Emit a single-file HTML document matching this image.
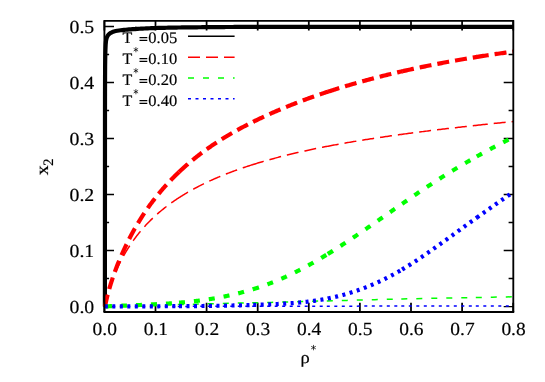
<!DOCTYPE html>
<html><head><meta charset="utf-8"><title>x2 vs rho*</title>
<style>
html,body{margin:0;padding:0;background:#fff;}
body{width:545px;height:382px;overflow:hidden;}
svg{display:block;will-change:transform;}
text{font-family:"Liberation Serif",serif;text-rendering:geometricPrecision;fill:#000;stroke:#000;stroke-width:0.18px;}
</style></head><body>
<svg width="545" height="382" viewBox="0 0 545 382">
<rect width="545" height="382" fill="#fff"/>
<path d="M104.40,311.85 V302.65 M104.40,20.85 V30.45 M155.50,311.85 V302.65 M155.50,20.85 V30.45 M206.60,311.85 V302.65 M206.60,20.85 V30.45 M257.70,311.85 V302.65 M257.70,20.85 V30.45 M308.80,311.85 V302.65 M308.80,20.85 V30.45 M359.90,311.85 V302.65 M359.90,20.85 V30.45 M411.00,311.85 V302.65 M411.00,20.85 V30.45 M462.10,311.85 V302.65 M462.10,20.85 V30.45 M513.20,311.85 V302.65 M513.20,20.85 V30.45" stroke="#000" stroke-width="1.75" fill="none"/>
<path d="M104.4,306.60 H114.00 M513.3,306.60 H503.70 M104.4,278.59 H109.10 M513.3,278.59 H508.60 M104.4,250.58 H114.00 M513.3,250.58 H503.70 M104.4,222.57 H109.10 M513.3,222.57 H508.60 M104.4,194.56 H114.00 M513.3,194.56 H503.70 M104.4,166.55 H109.10 M513.3,166.55 H508.60 M104.4,138.54 H114.00 M513.3,138.54 H503.70 M104.4,110.53 H109.10 M513.3,110.53 H508.60 M104.4,82.52 H114.00 M513.3,82.52 H503.70 M104.4,54.51 H109.10 M513.3,54.51 H508.60 M104.4,26.50 H114.00 M513.3,26.50 H503.70" stroke="#000" stroke-width="1.45" fill="none"/>
<text x="122.5" y="42.55" font-size="15.95" textLength="9.8" lengthAdjust="spacingAndGlyphs">T</text><path d="M135.9,26.55 V30.95 M134.00,27.65 L137.80,29.85 M134.00,29.85 L137.80,27.65" stroke="#000" stroke-width="0.7" stroke-linecap="round" fill="none"/><path d="M139.5,37.65 H147.3 M139.5,40.35 H147.3" stroke="#000" stroke-width="1.25" fill="none"/><text x="148.3" y="42.55" font-size="15.95" textLength="28.9" lengthAdjust="spacingAndGlyphs">0.05</text>
<text x="122.5" y="63.5" font-size="15.95" textLength="9.8" lengthAdjust="spacingAndGlyphs">T</text><path d="M135.9,47.50 V51.90 M134.00,48.60 L137.80,50.80 M134.00,50.80 L137.80,48.60" stroke="#000" stroke-width="0.7" stroke-linecap="round" fill="none"/><path d="M139.5,58.60 H147.3 M139.5,61.30 H147.3" stroke="#000" stroke-width="1.25" fill="none"/><text x="148.3" y="63.5" font-size="15.95" textLength="28.9" lengthAdjust="spacingAndGlyphs">0.10</text>
<text x="122.5" y="84.5" font-size="15.95" textLength="9.8" lengthAdjust="spacingAndGlyphs">T</text><path d="M135.9,68.50 V72.90 M134.00,69.60 L137.80,71.80 M134.00,71.80 L137.80,69.60" stroke="#000" stroke-width="0.7" stroke-linecap="round" fill="none"/><path d="M139.5,79.60 H147.3 M139.5,82.30 H147.3" stroke="#000" stroke-width="1.25" fill="none"/><text x="148.3" y="84.5" font-size="15.95" textLength="28.9" lengthAdjust="spacingAndGlyphs">0.20</text>
<text x="122.5" y="105.5" font-size="15.95" textLength="9.8" lengthAdjust="spacingAndGlyphs">T</text><path d="M135.9,89.50 V93.90 M134.00,90.60 L137.80,92.80 M134.00,92.80 L137.80,90.60" stroke="#000" stroke-width="0.7" stroke-linecap="round" fill="none"/><path d="M139.5,100.60 H147.3 M139.5,103.30 H147.3" stroke="#000" stroke-width="1.25" fill="none"/><text x="148.3" y="105.5" font-size="15.95" textLength="28.9" lengthAdjust="spacingAndGlyphs">0.40</text>
<clipPath id="c"><rect x="102" y="20" width="412.1" height="292.6"/></clipPath>
<g clip-path="url(#c)">
<g stroke="#000" stroke-width="4.2" fill="none" stroke-linejoin="round"><path d="M104.90,306.40 L104.90,304.70 L104.90,303.00 L104.90,301.30 L104.90,299.60 L104.90,297.90 L104.90,296.20 L104.91,294.50 L104.91,292.80 L104.91,291.10 L104.91,289.40 L104.91,287.70 L104.91,286.00 L104.91,284.31 L104.91,282.61 L104.91,280.91 L104.91,279.21 L104.91,277.51 L104.91,275.81 L104.91,274.11 L104.92,272.41 L104.92,270.71 L104.92,269.01 L104.92,267.31 L104.92,265.61 L104.92,263.91 L104.92,262.21 L104.92,260.51 L104.92,258.81 L104.92,257.11 L104.92,255.41 L104.92,253.71 L104.93,252.01 L104.93,250.31 L104.93,248.61 L104.93,246.91 L104.93,245.21 L104.93,243.51 L104.93,241.81 L104.93,240.12 L104.93,238.42 L104.93,236.72 L104.93,235.02 L104.93,233.32 L104.93,231.62 L104.94,229.92 L104.94,228.22 L104.94,226.52 L104.94,224.82 L104.94,223.12 L104.94,221.42 L104.94,219.72 L104.94,218.02 L104.94,216.32 L104.94,214.62 L104.94,212.92 L104.94,211.22 L104.95,209.52 L104.95,207.82 L104.95,206.12 L104.95,204.42 L104.95,202.72 L104.95,201.02 L104.95,199.32 L104.95,197.63 L104.95,195.93 L104.95,194.23 L104.95,192.53 L104.95,190.83 L104.95,189.13 L104.96,187.43 L104.96,185.73 L104.96,184.03 L104.96,182.33 L104.96,180.63 L104.96,178.93 L104.96,177.23 L104.96,175.53 L104.96,173.83 L104.96,172.13 L104.96,170.43 L104.96,168.73 L104.96,167.03 L104.96,165.33 L104.96,163.63 L104.96,161.93 L104.96,160.23 L104.97,158.53 L104.97,156.83 L104.97,155.14 L104.97,153.44 L104.97,151.74 L104.97,150.04 L104.97,148.34 L104.97,146.64 L104.97,144.94 L104.97,143.24 L104.97,141.54 L104.97,139.84 L104.97,138.14 L104.97,136.44 L104.98,134.74 L104.98,133.04 L104.98,131.34 L104.98,129.64 L104.98,127.94 L104.98,126.24 L104.98,124.54 L104.98,122.84 L104.98,121.14 L104.98,119.44 L104.99,117.74 L104.99,116.04 L104.99,114.34 L104.99,112.64 L104.99,110.95 L104.99,109.25 L104.99,107.55 L104.99,105.85 L105.00,104.15 L105.00,102.45 L105.00,100.75 L105.00,99.05 L105.00,97.35 L105.01,95.65 L105.01,93.95 L105.01,92.25 L105.02,90.55 L105.02,88.85 L105.03,87.15 L105.03,85.45 L105.04,83.75 L105.04,82.05 L105.05,80.35 L105.06,78.65 L105.06,76.95 L105.07,75.25 L105.08,73.55 L105.09,71.85 L105.10,70.15 L105.11,68.46 L105.12,66.76 L105.14,65.06 L105.16,63.36 L105.19,61.66 L105.21,59.96 L105.24,58.26 L105.27,56.56 L105.30,54.86 L105.34,53.16 L105.39,51.46 L105.44,49.76 L105.51,48.06 L105.58,46.37 L105.67,44.67 L105.80,42.97 L105.97,41.28 L106.24,39.60 L106.68,37.95 L107.33,36.38 L108.24,34.95 L109.45,33.74 L110.85,32.80 L112.39,32.02 L113.98,31.46 L115.63,31.05 L117.31,30.73 L118.99,30.48 L120.68,30.28 L122.37,30.09 L124.06,29.92 L125.75,29.75 L127.44,29.60 L129.14,29.46 L130.83,29.33 L132.53,29.21 L134.22,29.09 L135.92,28.98 L137.62,28.87 L139.31,28.76 L141.01,28.66 L142.71,28.56 L144.40,28.48 L146.10,28.40 L147.80,28.33 L149.50,28.26 L151.20,28.19 L152.89,28.12 L154.59,28.06 L156.29,28.01 L157.99,27.96 L159.69,27.91 L161.39,27.86 L163.09,27.82 L164.79,27.78 L166.48,27.74 L168.18,27.71 L169.88,27.67 L171.58,27.64 L173.28,27.61 L174.98,27.58 L176.68,27.55 L178.38,27.52 L180.08,27.50 L181.78,27.47 L183.48,27.45 L185.18,27.43 L186.88,27.40 L188.58,27.38 L190.28,27.36 L191.98,27.34 L193.68,27.32 L195.38,27.30 L197.07,27.28 L198.77,27.26 L200.47,27.24 L202.17,27.22 L203.87,27.21 L205.57,27.19 L207.27,27.17 L208.97,27.16 L210.67,27.14 L212.37,27.13 L214.07,27.12 L215.77,27.10 L217.47,27.09 L219.17,27.07 L220.87,27.06 L222.57,27.05 L224.27,27.03 L225.97,27.02 L227.67,27.01 L229.37,27.00 L231.07,26.99 L232.77,26.98 L234.46,26.97 L236.16,26.96 L237.86,26.96 L239.56,26.95 L241.26,26.95 L242.96,26.94 L244.66,26.94 L246.36,26.93 L248.06,26.93 L249.76,26.92 L251.46,26.92 L253.16,26.92 L254.86,26.91 L256.56,26.91 L258.26,26.90 L259.96,26.90 L261.66,26.90 L263.36,26.89 L265.06,26.89 L266.76,26.89 L268.46,26.88 L270.16,26.88 L271.86,26.88 L273.56,26.88 L275.26,26.87 L276.95,26.87 L278.65,26.87 L280.35,26.87 L282.05,26.86 L283.75,26.86 L285.45,26.86 L287.15,26.86 L288.85,26.86 L290.55,26.86 L292.25,26.85 L293.95,26.85 L295.65,26.85 L297.35,26.85 L299.05,26.85 L300.75,26.85 L302.45,26.85 L304.15,26.85 L305.85,26.85 L307.55,26.85 L309.25,26.85 L310.95,26.84 L312.65,26.84 L314.35,26.84 L316.05,26.84 L317.75,26.84 L319.44,26.84 L321.14,26.84 L322.84,26.84 L324.54,26.84 L326.24,26.84 L327.94,26.84 L329.64,26.84 L331.34,26.84 L333.04,26.84 L334.74,26.83 L336.44,26.83 L338.14,26.83 L339.84,26.83 L341.54,26.83 L343.24,26.83 L344.94,26.83 L346.64,26.83 L348.34,26.83 L350.04,26.83 L351.74,26.83 L353.44,26.83 L355.14,26.83 L356.84,26.83 L358.54,26.83 L360.24,26.83 L361.94,26.82 L363.63,26.82 L365.33,26.82 L367.03,26.82 L368.73,26.82 L370.43,26.82 L372.13,26.82 L373.83,26.82 L375.53,26.82 L377.23,26.82 L378.93,26.82 L380.63,26.82 L382.33,26.82 L384.03,26.82 L385.73,26.82 L387.43,26.82 L389.13,26.82 L390.83,26.82 L392.53,26.82 L394.23,26.82 L395.93,26.81 L397.63,26.81 L399.33,26.81 L401.03,26.81 L402.73,26.81 L404.43,26.81 L406.12,26.81 L407.82,26.81 L409.52,26.81 L411.22,26.81 L412.92,26.81 L414.62,26.81 L416.32,26.81 L418.02,26.81 L419.72,26.81 L421.42,26.81 L423.12,26.81 L424.82,26.81 L426.52,26.81 L428.22,26.81 L429.92,26.81 L431.62,26.81 L433.32,26.81 L435.02,26.81 L436.72,26.81 L438.42,26.81 L440.12,26.81 L441.82,26.81 L443.52,26.81 L445.22,26.80 L446.92,26.80 L448.61,26.80 L450.31,26.80 L452.01,26.80 L453.71,26.80 L455.41,26.80 L457.11,26.80 L458.81,26.80 L460.51,26.80 L462.21,26.80 L463.91,26.80 L465.61,26.80 L467.31,26.80 L469.01,26.80 L470.71,26.80 L472.41,26.80 L474.11,26.80 L475.81,26.80 L477.51,26.80 L479.21,26.80 L480.91,26.80 L482.61,26.80 L484.31,26.80 L486.01,26.80 L487.71,26.80 L489.41,26.80 L491.11,26.80 L492.80,26.80 L494.50,26.80 L496.20,26.80 L497.90,26.80 L499.60,26.80 L501.30,26.80 L503.00,26.80 L504.70,26.80 L506.40,26.80 L508.10,26.80 L509.80,26.80 L511.50,26.80 L513.20,26.80"/></g>
<g stroke="#f00" stroke-width="4.2" fill="none" stroke-linejoin="round" stroke-dasharray="12 6"><path d="M105.00,306.50 L105.11,305.96 L105.22,305.39 L105.33,304.82 L105.45,304.25 L105.57,303.67 L105.69,303.09 L105.82,302.51 L105.95,301.92 L106.08,301.33 L106.21,300.74 L106.35,300.14 L106.49,299.53 L106.63,298.93 L106.77,298.32 L106.92,297.71 L107.07,297.09 L107.23,296.47 L107.38,295.85 L107.54,295.22 L107.71,294.60 L107.87,293.96 L108.04,293.33 L108.21,292.69 L108.38,292.05 L108.56,291.41 L108.74,290.76 L108.92,290.11 L109.11,289.46 L109.30,288.80 L109.49,288.14 L109.68,287.48 L109.88,286.82 L110.08,286.15 L110.28,285.48 L110.48,284.81 L110.69,284.13 L110.90,283.46 L111.12,282.78 L111.33,282.10 L111.55,281.41 L111.77,280.73 L112.00,280.04 L112.23,279.35 L112.46,278.65 L112.69,277.96 L112.93,277.26 L113.17,276.56 L113.41,275.86 L113.65,275.15 L113.90,274.45 L114.15,273.74 L114.41,273.03 L114.66,272.32 L114.92,271.61 L115.18,270.89 L115.45,270.18 L115.72,269.46 L115.99,268.74 L116.26,268.01 L116.54,267.29 L116.82,266.57 L117.10,265.84 L117.38,265.11 L117.67,264.38 L117.96,263.65 L118.26,262.92 L118.55,262.19 L118.85,261.45 L119.15,260.72 L119.46,259.98 L119.77,259.24 L120.08,258.50 L120.39,257.76 L120.71,257.02 L121.03,256.28 L121.35,255.54 L121.67,254.79 L122.00,254.05 L122.33,253.30 L122.66,252.56 L123.00,251.81 L123.34,251.06 L123.68,250.31 L124.03,249.56 L124.37,248.82 L124.73,248.07 L125.08,247.31 L125.43,246.56 L125.79,245.81 L126.16,245.06 L126.52,244.31 L126.89,243.56 L127.26,242.80 L127.63,242.05 L128.01,241.30 L128.39,240.54 L128.77,239.79 L129.15,239.04 L129.54,238.29 L129.93,237.53 L130.33,236.78 L130.72,236.03 L131.12,235.27 L131.52,234.52 L131.93,233.77 L132.33,233.02 L132.74,232.26 L133.16,231.51 L133.57,230.76 L133.99,230.01 L134.41,229.26 L134.84,228.51 L135.27,227.76 L135.70,227.02 L136.13,226.27 L136.57,225.52 L137.01,224.77 L137.45,224.03 L137.89,223.28 L138.34,222.54 L138.79,221.80 L139.24,221.06 L139.70,220.31 L140.16,219.57 L140.62,218.84 L141.08,218.10 L141.55,217.36 L142.02,216.63 L142.49,215.89 L142.97,215.16 L143.45,214.43 L143.93,213.70 L144.42,212.97 L144.90,212.24 L145.39,211.51 L145.89,210.79 L146.38,210.06 L146.88,209.34 L147.38,208.62 L147.89,207.90 L148.39,207.19 L148.90,206.47 L149.42,205.76 L149.93,205.05 L150.45,204.34 L150.97,203.63 L151.50,202.92 L152.03,202.22 L152.56,201.52 L153.09,200.81 L153.62,200.11 L154.16,199.42 L154.70,198.72 L155.25,198.03 L155.80,197.33 L156.35,196.64 L156.90,195.95 L157.45,195.26 L158.01,194.58 L158.57,193.89 L159.14,193.21 L159.71,192.53 L160.28,191.85 L160.85,191.17 L161.42,190.50 L162.00,189.82 L162.58,189.15 L163.17,188.48 L163.76,187.81 L164.35,187.15 L164.94,186.48 L165.53,185.82 L166.13,185.16 L166.73,184.50 L167.34,183.84 L167.95,183.18 L168.56,182.53 L169.17,181.88 L169.78,181.23 L170.40,180.58 L171.02,179.93 L171.65,179.28 L172.28,178.64 L172.91,178.00 L173.54,177.36 L174.17,176.72 L174.81,176.09 L175.45,175.45 L176.10,174.82 L176.74,174.19 L177.39,173.56 L178.05,172.93 L178.70,172.31 L179.00,172.02 L179.25,171.78"/><path d="M179.00,172.02 L179.36,171.68 L180.02,171.06 L180.69,170.44 L181.35,169.82 L182.02,169.21 L182.70,168.59 L183.37,167.98 L184.05,167.37 L184.73,166.76 L185.41,166.16 L186.10,165.55 L186.79,164.95 L187.48,164.35 L188.18,163.75 L188.88,163.15 L189.58,162.55 L190.28,161.96 L190.99,161.37 L191.70,160.78 L192.41,160.19 L193.13,159.61 L193.85,159.02 L194.57,158.44 L195.29,157.86 L196.02,157.28 L196.75,156.71 L197.48,156.13 L198.22,155.56 L198.95,154.99 L199.69,154.42 L200.44,153.85 L201.18,153.29 L201.93,152.73 L202.69,152.16 L203.44,151.61 L204.20,151.05 L204.96,150.49 L205.73,149.94 L206.49,149.39 L207.26,148.84 L208.03,148.29 L208.81,147.75 L209.59,147.21 L210.37,146.66 L211.15,146.13 L211.94,145.59 L212.73,145.05 L213.52,144.52 L214.32,143.99 L215.11,143.46 L215.92,142.93 L216.72,142.41 L217.53,141.88 L218.34,141.36 L219.15,140.84 L219.96,140.32 L220.78,139.81 L221.60,139.29 L222.43,138.78 L223.25,138.27 L224.08,137.76 L224.91,137.25 L225.75,136.75 L226.59,136.24 L227.43,135.74 L228.27,135.24 L229.12,134.74 L229.97,134.25 L230.82,133.75 L231.67,133.26 L232.53,132.77 L233.39,132.28 L234.26,131.79 L235.12,131.30 L235.99,130.82 L236.87,130.33 L237.74,129.85 L238.62,129.37 L239.50,128.89 L240.38,128.41 L241.27,127.93 L242.16,127.46 L243.05,126.99 L243.95,126.51 L244.84,126.04 L245.74,125.57 L246.65,125.11 L247.55,124.64 L248.46,124.17 L249.38,123.71 L250.29,123.25 L251.21,122.79 L252.13,122.33 L253.05,121.87 L253.20,121.80 L253.51,121.64"/><path d="M253.20,121.80 L253.98,121.41 L254.91,120.96 L255.84,120.50 L256.77,120.05 L257.71,119.60 L258.65,119.14 L259.60,118.69 L260.54,118.25 L261.49,117.80 L262.44,117.35 L263.40,116.91 L264.36,116.46 L265.32,116.02 L266.28,115.58 L267.25,115.14 L268.22,114.70 L269.19,114.26 L270.16,113.82 L271.14,113.39 L272.12,112.95 L273.10,112.52 L274.09,112.09 L275.08,111.66 L276.07,111.23 L277.07,110.80 L278.06,110.37 L279.06,109.95 L280.07,109.52 L281.07,109.10 L282.08,108.67 L283.09,108.25 L284.11,107.83 L285.13,107.41 L286.15,107.00 L287.17,106.58 L288.20,106.16 L289.23,105.75 L290.26,105.34 L291.29,104.92 L292.33,104.51 L293.37,104.10 L294.41,103.70 L295.46,103.29 L296.51,102.88 L297.56,102.48 L298.62,102.07 L299.67,101.67 L300.73,101.27 L301.80,100.87 L302.86,100.47 L303.93,100.07 L305.00,99.68 L306.08,99.28 L307.16,98.89 L308.24,98.49 L309.32,98.10 L310.40,97.71 L311.49,97.32 L312.59,96.93 L313.68,96.55 L314.78,96.16 L315.88,95.78 L316.98,95.39 L318.09,95.01 L319.20,94.63 L320.31,94.25 L321.42,93.87 L322.54,93.49 L323.66,93.12 L324.78,92.74 L325.91,92.37 L327.04,92.00 L327.80,91.75 L328.13,91.64"/><path d="M327.80,91.75 L328.17,91.62 L329.30,91.25 L330.44,90.89 L331.58,90.52 L332.72,90.15 L333.87,89.79 L335.02,89.42 L336.17,89.06 L337.32,88.70 L338.48,88.33 L339.64,87.98 L340.80,87.62 L341.97,87.26 L343.14,86.90 L344.31,86.55 L345.48,86.20 L346.66,85.84 L347.84,85.49 L349.02,85.14 L350.21,84.79 L351.40,84.44 L352.59,84.10 L353.78,83.75 L354.98,83.41 L356.18,83.07 L357.39,82.72 L358.59,82.38 L359.80,82.04 L361.01,81.71 L362.23,81.37 L363.44,81.03 L364.66,80.70 L365.89,80.37 L367.11,80.03 L368.34,79.70 L369.57,79.37 L370.80,79.04 L372.04,78.72 L373.28,78.39 L374.52,78.06 L375.77,77.74 L377.02,77.42 L378.27,77.10 L379.52,76.78 L380.78,76.46 L382.04,76.14 L383.30,75.82 L384.57,75.51 L385.84,75.19 L387.11,74.88 L388.38,74.57 L389.66,74.26 L390.94,73.95 L392.22,73.64 L393.51,73.33 L394.80,73.03 L396.09,72.72 L397.38,72.42 L398.68,72.12 L399.98,71.81 L401.28,71.51 L402.10,71.33 L402.44,71.25"/><path d="M402.10,71.33 L402.59,71.22 L403.90,70.92 L405.21,70.62 L406.52,70.33 L407.84,70.03 L409.16,69.74 L410.48,69.45 L411.81,69.16 L413.13,68.87 L414.47,68.58 L415.80,68.29 L417.14,68.01 L418.48,67.72 L419.82,67.44 L421.16,67.16 L422.51,66.88 L423.86,66.60 L425.22,66.32 L426.57,66.04 L427.93,65.77 L429.30,65.49 L430.66,65.22 L432.03,64.95 L433.40,64.67 L434.77,64.40 L436.15,64.14 L437.53,63.87 L438.91,63.60 L440.30,63.34 L441.69,63.07 L443.08,62.81 L444.47,62.55 L445.87,62.29 L447.27,62.03 L448.67,61.77 L450.08,61.51 L451.48,61.26 L452.90,61.00 L454.31,60.75 L455.73,60.50 L457.15,60.25 L458.57,60.00 L459.99,59.75 L461.42,59.50 L462.85,59.25 L464.29,59.01 L465.72,58.77 L467.16,58.52 L468.60,58.28 L470.05,58.04 L471.50,57.80 L472.95,57.56 L474.40,57.33 L475.86,57.09 L476.80,56.94 L477.15,56.89"/><path d="M476.80,56.94 L477.32,56.86 L478.78,56.63 L480.25,56.39 L481.71,56.16 L483.18,55.93 L484.66,55.71 L486.13,55.48 L487.61,55.25 L489.10,55.03 L490.58,54.81 L492.07,54.58 L493.56,54.36 L495.05,54.14 L496.55,53.92 L498.05,53.71 L499.55,53.49 L501.06,53.28 L502.56,53.06 L504.08,52.85 L505.59,52.64 L507.11,52.43 L508.62,52.22 L510.15,52.01 L511.67,51.81 L513.20,51.60"/></g>
<g stroke="#f00" stroke-width="1.5" fill="none" stroke-linejoin="round" stroke-dasharray="12 6"><path d="M105.11,306.50 L105.11,306.49 L105.22,305.89 L105.33,305.29 L105.45,304.69 L105.57,304.09 L105.69,303.49 L105.82,302.89 L105.95,302.29 L106.08,301.68 L106.21,301.08 L106.35,300.47 L106.49,299.86 L106.63,299.26 L106.77,298.65 L106.92,298.04 L107.07,297.42 L107.23,296.81 L107.38,296.20 L107.54,295.58 L107.71,294.97 L107.87,294.35 L108.04,293.74 L108.21,293.12 L108.38,292.50 L108.56,291.88 L108.74,291.27 L108.92,290.65 L109.11,290.03 L109.30,289.40 L109.49,288.78 L109.68,288.16 L109.88,287.54 L110.08,286.92 L110.28,286.29 L110.48,285.67 L110.69,285.04 L110.90,284.42 L111.12,283.79 L111.33,283.17 L111.55,282.54 L111.77,281.92 L112.00,281.29 L112.23,280.67 L112.46,280.04 L112.69,279.41 L112.93,278.79 L113.17,278.16 L113.41,277.53 L113.65,276.90 L113.90,276.28 L114.15,275.65 L114.41,275.02 L114.66,274.40 L114.92,273.77 L115.18,273.14 L115.45,272.52 L115.72,271.89 L115.99,271.26 L116.26,270.64 L116.54,270.01 L116.82,269.39 L117.10,268.76 L117.38,268.14 L117.67,267.51 L117.96,266.89 L118.26,266.26 L118.55,265.64 L118.85,265.02 L119.15,264.39 L119.46,263.77 L119.77,263.15 L120.08,262.53 L120.39,261.91 L120.71,261.29 L121.03,260.67 L121.35,260.05 L121.67,259.43 L122.00,258.81 L122.33,258.20 L122.66,257.58 L123.00,256.97 L123.34,256.35 L123.68,255.74 L124.03,255.13 L124.37,254.52 L124.73,253.91 L125.08,253.30 L125.43,252.69 L125.79,252.08 L126.16,251.47 L126.52,250.87 L126.89,250.26 L127.26,249.66 L127.63,249.06 L128.01,248.45 L128.39,247.85 L128.77,247.26 L129.15,246.66 L129.54,246.06 L129.93,245.47 L130.33,244.87 L130.72,244.28 L131.12,243.69 L131.52,243.10 L131.93,242.51 L132.33,241.92 L132.74,241.34 L133.16,240.75 L133.57,240.17 L133.99,239.59 L134.41,239.01 L134.84,238.43 L135.27,237.86 L135.70,237.28 L136.13,236.71 L136.57,236.14 L137.01,235.57 L137.45,235.00 L137.89,234.44 L138.34,233.87 L138.79,233.31 L139.24,232.75 L139.70,232.19 L140.16,231.63 L140.62,231.08 L141.08,230.53 L141.55,229.97 L142.02,229.43 L142.49,228.88 L142.97,228.33 L143.45,227.79 L143.93,227.25 L144.42,226.71 L144.90,226.18 L145.39,225.64 L145.89,225.11 L146.38,224.58 L146.88,224.05 L147.38,223.52 L147.89,223.00 L148.39,222.47 L148.90,221.95 L149.42,221.44 L149.93,220.92 L150.45,220.40 L150.97,219.89 L151.50,219.38 L152.03,218.87 L152.56,218.36 L153.09,217.86 L153.62,217.35 L154.16,216.85 L154.70,216.35 L155.25,215.86 L155.80,215.36 L156.35,214.87 L156.90,214.37 L157.45,213.88 L158.01,213.40 L158.57,212.91 L159.14,212.43 L159.71,211.94 L160.28,211.46 L160.85,210.98 L161.42,210.51 L162.00,210.03 L162.58,209.56 L163.17,209.09 L163.76,208.62 L164.35,208.15 L164.94,207.68 L165.53,207.22 L166.13,206.76 L166.73,206.30 L167.34,205.84 L167.95,205.38 L168.56,204.92 L169.17,204.47 L169.78,204.02 L170.40,203.57 L171.02,203.12 L171.65,202.67 L172.28,202.23 L172.91,201.79 L173.54,201.35 L174.17,200.91 L174.81,200.47 L175.45,200.03 L176.10,199.60 L176.74,199.16 L177.39,198.73 L177.80,198.47 L178.09,198.27"/><path d="M177.80,198.47 L178.05,198.30 L178.70,197.88 L179.36,197.45 L180.02,197.03 L180.69,196.60 L181.35,196.18 L182.02,195.77 L182.70,195.35 L183.37,194.93 L184.05,194.52 L184.73,194.11 L185.41,193.69 L186.10,193.29 L186.79,192.88 L187.48,192.47 L188.18,192.07 L188.88,191.67 L189.58,191.26 L190.28,190.86 L190.99,190.47 L191.70,190.07 L192.41,189.68 L193.13,189.28 L193.85,188.89 L194.57,188.50 L195.29,188.11 L196.02,187.73 L196.75,187.34 L197.48,186.96 L198.22,186.58 L198.95,186.20 L199.69,185.82 L200.44,185.44 L201.18,185.06 L201.93,184.69 L202.69,184.32 L203.44,183.94 L204.20,183.57 L204.96,183.21 L205.73,182.84 L206.49,182.47 L207.26,182.11 L208.03,181.75 L208.81,181.39 L209.59,181.03 L210.37,180.67 L211.15,180.31 L211.94,179.96 L212.73,179.60 L213.52,179.25 L214.32,178.90 L215.11,178.55 L215.92,178.20 L216.72,177.86 L217.53,177.51 L218.34,177.17 L219.15,176.83 L219.96,176.49 L220.78,176.15 L221.60,175.81 L222.43,175.47 L223.25,175.14 L224.08,174.80 L224.91,174.47 L225.75,174.14 L226.59,173.81 L227.43,173.48 L228.27,173.16 L229.12,172.83 L229.97,172.51 L230.82,172.18 L231.67,171.86 L232.53,171.54 L233.39,171.22 L234.26,170.90 L235.12,170.59 L235.99,170.27 L236.87,169.96 L237.74,169.65 L238.62,169.34 L239.50,169.03 L240.38,168.72 L241.27,168.41 L242.16,168.10 L243.05,167.80 L243.95,167.50 L244.84,167.19 L245.74,166.89 L246.65,166.59 L247.55,166.29 L248.46,166.00 L249.38,165.70 L250.29,165.41 L251.21,165.11 L252.13,164.82 L252.20,164.80 L252.53,164.69"/><path d="M252.20,164.80 L253.05,164.53 L253.98,164.24 L254.91,163.95 L255.84,163.66 L256.77,163.38 L257.71,163.09 L258.65,162.81 L259.60,162.52 L260.54,162.24 L261.49,161.96 L262.44,161.68 L263.40,161.40 L264.36,161.13 L265.32,160.85 L266.28,160.57 L267.25,160.30 L268.22,160.03 L269.19,159.76 L270.16,159.49 L271.14,159.22 L272.12,158.95 L273.10,158.68 L274.09,158.42 L275.08,158.15 L276.07,157.89 L277.07,157.62 L278.06,157.36 L279.06,157.10 L280.07,156.84 L281.07,156.58 L282.08,156.33 L283.09,156.07 L284.11,155.81 L285.13,155.56 L286.15,155.31 L287.17,155.05 L288.20,154.80 L289.23,154.55 L290.26,154.30 L291.29,154.05 L292.33,153.81 L293.37,153.56 L294.41,153.31 L295.46,153.07 L296.51,152.83 L297.56,152.58 L298.62,152.34 L299.67,152.10 L300.73,151.86 L301.80,151.62 L302.86,151.39 L303.93,151.15 L305.00,150.91 L306.08,150.68 L307.16,150.44 L308.24,150.21 L309.32,149.98 L310.40,149.75 L311.49,149.52 L312.59,149.29 L313.68,149.06 L314.78,148.83 L315.88,148.60 L316.98,148.38 L318.09,148.15 L319.20,147.93 L320.31,147.71 L321.42,147.48 L322.54,147.26 L323.66,147.04 L324.78,146.82 L325.91,146.60 L326.80,146.43 L327.14,146.36"/><path d="M326.80,146.43 L327.04,146.38 L328.17,146.17 L329.30,145.95 L330.44,145.73 L331.58,145.52 L332.72,145.30 L333.87,145.09 L335.02,144.88 L336.17,144.67 L337.32,144.45 L338.48,144.24 L339.64,144.03 L340.80,143.83 L341.97,143.62 L343.14,143.41 L344.31,143.20 L345.48,143.00 L346.66,142.79 L347.84,142.59 L349.02,142.38 L350.21,142.18 L351.40,141.98 L352.59,141.78 L353.78,141.58 L354.98,141.38 L356.18,141.18 L357.39,140.98 L358.59,140.78 L359.80,140.58 L361.01,140.39 L362.23,140.19 L363.44,139.99 L364.66,139.80 L365.89,139.61 L367.11,139.41 L368.34,139.22 L369.57,139.03 L370.80,138.84 L372.04,138.64 L373.28,138.45 L374.52,138.26 L375.77,138.08 L377.02,137.89 L378.27,137.70 L379.52,137.51 L380.78,137.33 L382.04,137.14 L383.30,136.95 L384.57,136.77 L385.84,136.58 L387.11,136.40 L388.38,136.22 L389.66,136.03 L390.94,135.85 L392.22,135.67 L393.51,135.49 L394.80,135.31 L396.09,135.13 L397.38,134.95 L398.68,134.77 L399.98,134.59 L401.28,134.41 L401.30,134.41 L401.65,134.36"/><path d="M401.30,134.41 L402.59,134.24 L403.90,134.06 L405.21,133.88 L406.52,133.71 L407.84,133.53 L409.16,133.35 L410.48,133.18 L411.81,133.01 L413.13,132.83 L414.47,132.66 L415.80,132.49 L417.14,132.31 L418.48,132.14 L419.82,131.97 L421.16,131.80 L422.51,131.63 L423.86,131.46 L425.22,131.29 L426.57,131.12 L427.93,130.95 L429.30,130.78 L430.66,130.61 L432.03,130.44 L433.40,130.28 L434.77,130.11 L436.15,129.94 L437.53,129.78 L438.91,129.61 L440.30,129.44 L441.69,129.28 L443.08,129.11 L444.47,128.95 L445.87,128.78 L447.27,128.62 L448.67,128.46 L450.08,128.29 L451.48,128.13 L452.90,127.97 L454.31,127.80 L455.73,127.64 L457.15,127.48 L458.57,127.32 L459.99,127.16 L461.42,127.00 L462.85,126.83 L464.29,126.67 L465.72,126.51 L467.16,126.35 L468.60,126.19 L470.05,126.03 L471.50,125.87 L472.95,125.71 L474.40,125.56 L475.80,125.40 L476.15,125.37"/><path d="M475.80,125.40 L475.86,125.40 L477.32,125.24 L478.78,125.08 L480.25,124.92 L481.71,124.76 L483.18,124.61 L484.66,124.45 L486.13,124.29 L487.61,124.13 L489.10,123.98 L490.58,123.82 L492.07,123.66 L493.56,123.51 L495.05,123.35 L496.55,123.19 L498.05,123.04 L499.55,122.88 L501.06,122.73 L502.56,122.57 L504.08,122.41 L505.59,122.26 L507.11,122.10 L508.62,121.95 L510.15,121.79 L511.67,121.64 L513.20,121.48"/></g>
<g stroke="#0f0" stroke-width="4.2" fill="none" stroke-linejoin="round" stroke-dasharray="6 9"><path d="M106.00,306.40 L106.82,306.37 L107.63,306.33 L108.45,306.29 L109.26,306.25 L110.08,306.21 L110.90,306.18 L111.71,306.14 L112.53,306.10 L113.34,306.07 L114.16,306.03 L114.98,306.00 L115.79,305.96 L116.61,305.93 L117.42,305.90 L118.24,305.86 L119.06,305.83 L119.87,305.80 L120.69,305.76 L121.50,305.73 L122.32,305.70 L123.14,305.66 L123.95,305.63 L124.77,305.60 L125.58,305.57 L126.40,305.53 L127.22,305.50 L128.03,305.47 L128.85,305.44 L129.66,305.41 L130.48,305.37 L131.30,305.34 L132.11,305.31 L132.93,305.28 L133.75,305.24 L134.56,305.21 L135.38,305.18 L136.19,305.15 L137.01,305.11 L137.83,305.08 L138.64,305.05 L139.46,305.01 L140.27,304.98 L141.09,304.94 L141.91,304.91 L142.72,304.87 L143.54,304.84 L144.35,304.80 L145.17,304.77 L145.99,304.73 L146.80,304.69 L147.62,304.66 L148.43,304.62 L149.25,304.58 L150.07,304.54 L150.88,304.50 L151.70,304.46 L152.51,304.42 L153.33,304.38 L154.15,304.34 L154.96,304.30 L155.78,304.26 L156.59,304.21 L157.41,304.17 L158.23,304.13 L159.04,304.08 L159.86,304.03 L160.67,303.99 L161.49,303.94 L162.31,303.89 L163.12,303.84 L163.94,303.79 L164.75,303.74 L165.57,303.69 L166.39,303.64 L167.20,303.59 L168.02,303.53 L168.83,303.48 L169.65,303.42 L170.47,303.36 L171.28,303.30 L172.10,303.25 L172.91,303.19 L173.73,303.12 L174.55,303.06 L175.36,303.00 L176.18,302.93 L176.99,302.87 L177.81,302.80 L178.63,302.73 L179.00,302.70 L179.35,302.67"/><path d="M179.00,302.70 L179.44,302.67 L180.26,302.60 L181.07,302.52 L181.89,302.45 L182.71,302.38 L183.52,302.30 L184.34,302.23 L185.16,302.15 L185.97,302.07 L186.79,301.99 L187.60,301.91 L188.42,301.82 L189.24,301.74 L190.05,301.65 L190.87,301.56 L191.68,301.48 L192.50,301.39 L193.32,301.29 L194.13,301.20 L194.95,301.10 L195.76,301.01 L196.58,300.91 L197.40,300.81 L198.21,300.71 L199.03,300.61 L199.84,300.50 L200.66,300.39 L201.48,300.29 L202.29,300.18 L203.11,300.06 L203.92,299.95 L204.74,299.84 L205.56,299.72 L206.37,299.60 L207.19,299.48 L208.00,299.36 L208.82,299.23 L209.64,299.11 L210.45,298.98 L211.27,298.85 L212.08,298.72 L212.90,298.58 L213.72,298.45 L214.53,298.31 L215.35,298.17 L216.16,298.03 L216.98,297.88 L217.80,297.74 L218.61,297.59 L219.43,297.44 L220.24,297.29 L221.06,297.13 L221.88,296.98 L222.69,296.82 L223.51,296.65 L224.32,296.49 L225.14,296.33 L225.96,296.16 L226.77,295.99 L227.59,295.81 L228.40,295.64 L229.22,295.46 L230.04,295.28 L230.85,295.10 L231.67,294.92 L232.48,294.73 L233.30,294.54 L234.12,294.35 L234.93,294.16 L235.75,293.96 L236.57,293.76 L237.38,293.56 L238.20,293.36 L239.01,293.15 L239.83,292.94 L240.65,292.73 L241.46,292.52 L242.28,292.30 L243.09,292.08 L243.91,291.86 L244.73,291.64 L245.54,291.41 L246.36,291.18 L247.17,290.95 L247.99,290.71 L248.81,290.48 L249.62,290.24 L250.44,290.00 L251.25,289.75 L252.07,289.50 L252.89,289.25 L253.20,289.16 L253.53,289.05"/><path d="M253.20,289.16 L253.70,289.00 L254.52,288.74 L255.33,288.49 L256.15,288.22 L256.97,287.96 L257.78,287.69 L258.60,287.42 L259.41,287.15 L260.23,286.88 L261.05,286.60 L261.86,286.32 L262.68,286.03 L263.49,285.75 L264.31,285.46 L265.13,285.16 L265.94,284.87 L266.76,284.57 L267.57,284.27 L268.39,283.97 L269.21,283.66 L270.02,283.35 L270.84,283.04 L271.65,282.72 L272.47,282.40 L273.29,282.08 L274.10,281.75 L274.92,281.43 L275.73,281.09 L276.55,280.76 L277.37,280.42 L278.18,280.08 L279.00,279.74 L279.81,279.39 L280.63,279.04 L281.45,278.69 L282.26,278.33 L283.08,277.97 L283.89,277.61 L284.71,277.24 L285.53,276.88 L286.34,276.50 L287.16,276.13 L287.98,275.75 L288.79,275.37 L289.61,274.98 L290.42,274.60 L291.24,274.21 L292.06,273.81 L292.87,273.41 L293.69,273.02 L294.50,272.61 L295.32,272.21 L296.14,271.80 L296.95,271.39 L297.77,270.97 L298.58,270.56 L299.40,270.14 L300.22,269.71 L301.03,269.29 L301.85,268.86 L302.66,268.43 L303.48,268.00 L304.30,267.56 L305.11,267.12 L305.93,266.68 L306.74,266.24 L307.56,265.79 L308.38,265.35 L309.19,264.89 L310.01,264.44 L310.82,263.99 L311.64,263.53 L312.46,263.07 L313.27,262.60 L314.09,262.14 L314.90,261.67 L315.72,261.20 L316.54,260.73 L317.35,260.26 L318.17,259.78 L318.98,259.30 L319.80,258.82 L320.62,258.34 L321.43,257.85 L322.25,257.36 L323.06,256.88 L323.88,256.38 L324.70,255.89 L325.51,255.40 L326.33,254.90 L327.14,254.40 L327.80,254.00 L328.10,253.82"/><path d="M327.80,254.00 L327.96,253.90 L328.78,253.40 L329.59,252.89 L330.41,252.39 L331.22,251.88 L332.04,251.37 L332.86,250.86 L333.67,250.34 L334.49,249.83 L335.31,249.31 L336.12,248.79 L336.94,248.27 L337.75,247.75 L338.57,247.23 L339.39,246.70 L340.20,246.18 L341.02,245.65 L341.83,245.12 L342.65,244.59 L343.47,244.06 L344.28,243.53 L345.10,242.99 L345.91,242.45 L346.73,241.92 L347.55,241.38 L348.36,240.84 L349.18,240.30 L349.99,239.76 L350.81,239.21 L351.63,238.67 L352.44,238.12 L353.26,237.57 L354.07,237.03 L354.89,236.48 L355.71,235.93 L356.52,235.38 L357.34,234.83 L358.15,234.27 L358.97,233.72 L359.79,233.16 L360.60,232.61 L361.42,232.05 L362.23,231.49 L363.05,230.94 L363.87,230.38 L364.68,229.82 L365.50,229.26 L366.31,228.70 L367.13,228.14 L367.95,227.57 L368.76,227.01 L369.58,226.45 L370.39,225.88 L371.21,225.32 L372.03,224.75 L372.84,224.19 L373.66,223.62 L374.47,223.06 L375.29,222.49 L376.11,221.92 L376.92,221.36 L377.74,220.79 L378.55,220.22 L379.37,219.65 L380.19,219.08 L381.00,218.51 L381.82,217.94 L382.63,217.38 L383.45,216.81 L384.27,216.24 L385.08,215.67 L385.90,215.10 L386.72,214.53 L387.53,213.96 L388.35,213.39 L389.16,212.82 L389.98,212.25 L390.80,211.68 L391.61,211.11 L392.43,210.54 L393.24,209.97 L394.06,209.40 L394.88,208.83 L395.69,208.27 L396.51,207.70 L397.32,207.13 L398.14,206.56 L398.96,206.00 L399.77,205.43 L400.59,204.86 L401.40,204.30 L402.10,203.81 L402.39,203.61"/><path d="M402.10,203.81 L402.22,203.73 L403.04,203.17 L403.85,202.60 L404.67,202.04 L405.48,201.47 L406.30,200.91 L407.12,200.35 L407.93,199.79 L408.75,199.23 L409.56,198.67 L410.38,198.11 L411.20,197.55 L412.01,196.99 L412.83,196.43 L413.64,195.87 L414.46,195.32 L415.28,194.76 L416.09,194.21 L416.91,193.66 L417.72,193.10 L418.54,192.55 L419.36,192.00 L420.17,191.45 L420.99,190.91 L421.80,190.36 L422.62,189.81 L423.44,189.27 L424.25,188.72 L425.07,188.18 L425.88,187.64 L426.70,187.10 L427.52,186.56 L428.33,186.02 L429.15,185.49 L429.96,184.95 L430.78,184.42 L431.60,183.89 L432.41,183.35 L433.23,182.83 L434.04,182.30 L434.86,181.77 L435.68,181.24 L436.49,180.72 L437.31,180.20 L438.13,179.68 L438.94,179.15 L439.76,178.64 L440.57,178.12 L441.39,177.60 L442.21,177.09 L443.02,176.57 L443.84,176.06 L444.65,175.55 L445.47,175.04 L446.29,174.53 L447.10,174.03 L447.92,173.52 L448.73,173.02 L449.55,172.51 L450.37,172.01 L451.18,171.51 L452.00,171.01 L452.81,170.51 L453.63,170.02 L454.45,169.52 L455.26,169.03 L456.08,168.54 L456.89,168.04 L457.71,167.55 L458.53,167.07 L459.34,166.58 L460.16,166.09 L460.97,165.61 L461.79,165.13 L462.61,164.64 L463.42,164.16 L464.24,163.68 L465.05,163.21 L465.87,162.73 L466.69,162.25 L467.50,161.78 L468.32,161.31 L469.13,160.83 L469.95,160.36 L470.77,159.90 L471.58,159.43 L472.40,158.96 L473.21,158.50 L474.03,158.03 L474.85,157.57 L475.66,157.11 L476.48,156.65 L476.80,156.47 L477.11,156.30"/><path d="M476.80,156.47 L477.29,156.19 L478.11,155.73 L478.93,155.28 L479.74,154.82 L480.56,154.37 L481.37,153.92 L482.19,153.47 L483.01,153.02 L483.82,152.57 L484.64,152.12 L485.45,151.68 L486.27,151.23 L487.09,150.79 L487.90,150.35 L488.72,149.91 L489.54,149.47 L490.35,149.03 L491.17,148.60 L491.98,148.16 L492.80,147.73 L493.62,147.29 L494.43,146.86 L495.25,146.43 L496.06,146.00 L496.88,145.58 L497.70,145.15 L498.51,144.73 L499.33,144.30 L500.14,143.88 L500.96,143.46 L501.78,143.04 L502.59,142.62 L503.41,142.20 L504.22,141.79 L505.04,141.37 L505.86,140.96 L506.67,140.55 L507.49,140.14 L508.30,139.73 L509.12,139.32 L509.94,138.91 L510.75,138.50 L511.57,138.10 L512.38,137.70 L513.20,137.29"/></g>
<g stroke="#0f0" stroke-width="1.5" fill="none" stroke-linejoin="round" stroke-dasharray="6 9"><path d="M105.00,306.50 L111.92,306.32 L118.84,306.13 L125.75,305.95 L132.67,305.77 L139.59,305.58 L146.51,305.40 L153.43,305.23 L160.35,305.05 L167.26,304.87 L174.18,304.69 L177.80,304.60 L178.15,304.59"/><path d="M177.80,304.60 L181.10,304.52 L188.02,304.34 L194.94,304.16 L201.86,303.98 L208.77,303.81 L215.69,303.63 L222.61,303.46 L229.53,303.30 L236.45,303.14 L243.37,302.99 L250.29,302.85 L252.20,302.81 L252.55,302.80"/><path d="M252.20,302.81 L257.21,302.71 L264.13,302.58 L271.04,302.42 L277.96,302.21 L284.88,301.99 L291.80,301.80 L298.72,301.61 L305.63,301.43 L312.55,301.26 L319.47,301.09 L326.39,300.91 L326.80,300.90 L327.15,300.90"/><path d="M326.80,300.90 L333.31,300.74 L340.23,300.56 L347.14,300.38 L354.06,300.19 L360.98,300.00 L367.90,299.81 L374.82,299.63 L381.73,299.45 L388.65,299.28 L395.57,299.12 L401.30,298.99 L401.65,298.98"/><path d="M401.30,298.99 L402.49,298.97 L409.41,298.82 L416.33,298.67 L423.25,298.53 L430.17,298.39 L437.09,298.25 L444.01,298.11 L450.93,297.97 L457.84,297.84 L464.76,297.70 L471.68,297.57 L475.80,297.49 L476.15,297.48"/><path d="M475.80,297.49 L478.60,297.44 L485.52,297.31 L492.44,297.18 L499.36,297.05 L506.28,296.92 L513.20,296.80"/></g>
<g stroke="#00f" stroke-width="4.2" fill="none" stroke-linejoin="round" stroke-dasharray="3 4.5"><path d="M104.80,306.41 L105.62,306.40 L106.44,306.40 L107.26,306.40 L108.07,306.40 L108.89,306.39 L109.71,306.39 L110.53,306.39 L111.35,306.38 L112.17,306.38 L112.98,306.38 L113.80,306.38 L114.62,306.38 L115.44,306.37 L116.26,306.37 L117.08,306.37 L117.89,306.37 L118.71,306.36 L119.53,306.36 L120.35,306.36 L121.17,306.36 L121.99,306.36 L122.81,306.36 L123.62,306.35 L124.44,306.35 L125.26,306.35 L126.08,306.35 L126.90,306.35 L127.72,306.35 L128.53,306.34 L129.35,306.34 L130.17,306.34 L130.99,306.34 L131.81,306.34 L132.63,306.34 L133.45,306.33 L134.26,306.33 L135.08,306.33 L135.90,306.33 L136.72,306.33 L137.54,306.33 L138.36,306.33 L139.17,306.32 L139.99,306.32 L140.81,306.32 L141.63,306.32 L142.45,306.32 L143.27,306.32 L144.08,306.31 L144.90,306.31 L145.72,306.31 L146.54,306.31 L147.36,306.31 L148.18,306.31 L149.00,306.30 L149.81,306.30 L150.63,306.30 L151.45,306.30 L152.27,306.30 L153.09,306.29 L153.91,306.29 L154.72,306.29 L155.54,306.29 L156.36,306.28 L157.18,306.28 L158.00,306.28 L158.82,306.28 L159.64,306.27 L160.45,306.27 L161.27,306.27 L162.09,306.27 L162.91,306.26 L163.73,306.26 L164.55,306.26 L165.36,306.25 L166.18,306.25 L167.00,306.25 L167.82,306.24 L168.64,306.24 L169.46,306.24 L170.27,306.23 L171.09,306.23 L171.91,306.23 L172.73,306.22 L173.55,306.22 L174.37,306.21 L175.19,306.21 L176.00,306.21 L176.82,306.20 L177.64,306.20 L178.46,306.19 L179.00,306.19 L179.35,306.19"/><path d="M179.00,306.19 L179.28,306.19 L180.10,306.18 L180.91,306.18 L181.73,306.17 L182.55,306.17 L183.37,306.16 L184.19,306.15 L185.01,306.15 L185.83,306.14 L186.64,306.14 L187.46,306.13 L188.28,306.12 L189.10,306.12 L189.92,306.11 L190.74,306.10 L191.55,306.10 L192.37,306.09 L193.19,306.08 L194.01,306.07 L194.83,306.07 L195.65,306.06 L196.46,306.05 L197.28,306.04 L198.10,306.03 L198.92,306.02 L199.74,306.02 L200.56,306.01 L201.38,306.00 L202.19,305.99 L203.01,305.98 L203.83,305.97 L204.65,305.96 L205.47,305.95 L206.29,305.94 L207.10,305.93 L207.92,305.92 L208.74,305.91 L209.56,305.89 L210.38,305.88 L211.20,305.87 L212.02,305.86 L212.83,305.85 L213.65,305.83 L214.47,305.82 L215.29,305.81 L216.11,305.80 L216.93,305.78 L217.74,305.77 L218.56,305.76 L219.38,305.74 L220.20,305.73 L221.02,305.71 L221.84,305.70 L222.65,305.68 L223.47,305.67 L224.29,305.65 L225.11,305.64 L225.93,305.62 L226.75,305.60 L227.57,305.59 L228.38,305.57 L229.20,305.55 L230.02,305.54 L230.84,305.52 L231.66,305.50 L232.48,305.48 L233.29,305.47 L234.11,305.45 L234.93,305.43 L235.75,305.41 L236.57,305.39 L237.39,305.37 L238.21,305.35 L239.02,305.33 L239.84,305.31 L240.66,305.29 L241.48,305.26 L242.30,305.24 L243.12,305.22 L243.93,305.20 L244.75,305.18 L245.57,305.15 L246.39,305.13 L247.21,305.11 L248.03,305.08 L248.84,305.06 L249.66,305.03 L250.48,305.01 L251.30,304.98 L252.12,304.96 L252.94,304.93 L253.20,304.92 L253.55,304.91"/><path d="M253.20,304.92 L253.76,304.91 L254.57,304.88 L255.39,304.85 L256.21,304.83 L257.03,304.80 L257.85,304.77 L258.67,304.74 L259.48,304.71 L260.30,304.68 L261.12,304.65 L261.94,304.63 L262.76,304.59 L263.58,304.56 L264.40,304.53 L265.21,304.50 L266.03,304.47 L266.85,304.44 L267.67,304.41 L268.49,304.37 L269.31,304.34 L270.12,304.31 L270.94,304.27 L271.76,304.24 L272.58,304.20 L273.40,304.17 L274.22,304.13 L275.03,304.10 L275.85,304.06 L276.67,304.02 L277.49,303.98 L278.31,303.94 L279.13,303.90 L279.95,303.86 L280.76,303.82 L281.58,303.78 L282.40,303.73 L283.22,303.69 L284.04,303.64 L284.86,303.59 L285.67,303.54 L286.49,303.49 L287.31,303.44 L288.13,303.39 L288.95,303.34 L289.77,303.28 L290.59,303.23 L291.40,303.17 L292.22,303.11 L293.04,303.05 L293.86,302.99 L294.68,302.92 L295.50,302.86 L296.31,302.79 L297.13,302.72 L297.95,302.65 L298.77,302.58 L299.59,302.50 L300.41,302.43 L301.22,302.35 L302.04,302.27 L302.86,302.19 L303.68,302.10 L304.50,302.02 L305.32,301.93 L306.14,301.84 L306.95,301.74 L307.77,301.65 L308.59,301.55 L309.41,301.45 L310.23,301.35 L311.05,301.25 L311.86,301.14 L312.68,301.03 L313.50,300.92 L314.32,300.80 L315.14,300.68 L315.96,300.56 L316.78,300.44 L317.59,300.32 L318.41,300.19 L319.23,300.06 L320.05,299.92 L320.87,299.79 L321.69,299.65 L322.50,299.50 L323.32,299.36 L324.14,299.21 L324.96,299.06 L325.78,298.90 L326.60,298.74 L327.41,298.58 L327.80,298.51 L328.14,298.44"/><path d="M327.80,298.51 L328.23,298.42 L329.05,298.25 L329.87,298.08 L330.69,297.91 L331.51,297.73 L332.33,297.55 L333.14,297.37 L333.96,297.18 L334.78,296.99 L335.60,296.80 L336.42,296.61 L337.24,296.41 L338.05,296.20 L338.87,296.00 L339.69,295.79 L340.51,295.58 L341.33,295.36 L342.15,295.15 L342.97,294.92 L343.78,294.70 L344.60,294.47 L345.42,294.24 L346.24,294.00 L347.06,293.77 L347.88,293.53 L348.69,293.28 L349.51,293.03 L350.33,292.78 L351.15,292.53 L351.97,292.27 L352.79,292.00 L353.60,291.74 L354.42,291.47 L355.24,291.20 L356.06,290.92 L356.88,290.64 L357.70,290.36 L358.52,290.07 L359.33,289.79 L360.15,289.49 L360.97,289.20 L361.79,288.90 L362.61,288.59 L363.43,288.28 L364.24,287.97 L365.06,287.66 L365.88,287.34 L366.70,287.02 L367.52,286.69 L368.34,286.36 L369.16,286.03 L369.97,285.70 L370.79,285.36 L371.61,285.01 L372.43,284.67 L373.25,284.31 L374.07,283.96 L374.88,283.60 L375.70,283.24 L376.52,282.87 L377.34,282.50 L378.16,282.13 L378.98,281.75 L379.79,281.37 L380.61,280.99 L381.43,280.60 L382.25,280.21 L383.07,279.81 L383.89,279.41 L384.71,279.01 L385.52,278.60 L386.34,278.19 L387.16,277.77 L387.98,277.35 L388.80,276.93 L389.62,276.50 L390.43,276.07 L391.25,275.64 L392.07,275.20 L392.89,274.75 L393.71,274.31 L394.53,273.86 L395.35,273.40 L396.16,272.94 L396.98,272.48 L397.80,272.01 L398.62,271.54 L399.44,271.07 L400.26,270.59 L401.07,270.11 L401.89,269.63 L402.10,269.51 L402.40,269.33"/><path d="M402.10,269.51 L402.71,269.14 L403.53,268.65 L404.35,268.16 L405.17,267.66 L405.98,267.16 L406.80,266.66 L407.62,266.15 L408.44,265.64 L409.26,265.13 L410.08,264.61 L410.90,264.10 L411.71,263.57 L412.53,263.05 L413.35,262.52 L414.17,261.99 L414.99,261.46 L415.81,260.93 L416.62,260.39 L417.44,259.85 L418.26,259.31 L419.08,258.77 L419.90,258.22 L420.72,257.67 L421.54,257.12 L422.35,256.57 L423.17,256.01 L423.99,255.45 L424.81,254.89 L425.63,254.33 L426.45,253.77 L427.26,253.21 L428.08,252.64 L428.90,252.07 L429.72,251.50 L430.54,250.93 L431.36,250.36 L432.17,249.78 L432.99,249.21 L433.81,248.63 L434.63,248.05 L435.45,247.47 L436.27,246.89 L437.09,246.31 L437.90,245.72 L438.72,245.14 L439.54,244.55 L440.36,243.97 L441.18,243.38 L442.00,242.79 L442.81,242.20 L443.63,241.61 L444.45,241.02 L445.27,240.43 L446.09,239.84 L446.91,239.24 L447.73,238.65 L448.54,238.06 L449.36,237.46 L450.18,236.87 L451.00,236.27 L451.82,235.68 L452.64,235.08 L453.45,234.49 L454.27,233.89 L455.09,233.30 L455.91,232.70 L456.73,232.11 L457.55,231.51 L458.36,230.92 L459.18,230.32 L460.00,229.73 L460.82,229.14 L461.64,228.54 L462.46,227.95 L463.28,227.36 L464.09,226.76 L464.91,226.17 L465.73,225.58 L466.55,224.99 L467.37,224.40 L468.19,223.81 L469.00,223.22 L469.82,222.63 L470.64,222.04 L471.46,221.45 L472.28,220.86 L473.10,220.27 L473.92,219.69 L474.73,219.10 L475.55,218.51 L476.37,217.93 L476.80,217.62 L477.08,217.42"/><path d="M476.80,217.62 L477.19,217.34 L478.01,216.76 L478.83,216.17 L479.64,215.59 L480.46,215.00 L481.28,214.42 L482.10,213.84 L482.92,213.26 L483.74,212.68 L484.55,212.10 L485.37,211.52 L486.19,210.94 L487.01,210.36 L487.83,209.78 L488.65,209.21 L489.47,208.63 L490.28,208.05 L491.10,207.48 L491.92,206.90 L492.74,206.33 L493.56,205.76 L494.38,205.18 L495.19,204.61 L496.01,204.04 L496.83,203.47 L497.65,202.90 L498.47,202.34 L499.29,201.77 L500.11,201.20 L500.92,200.63 L501.74,200.07 L502.56,199.50 L503.38,198.94 L504.20,198.38 L505.02,197.82 L505.83,197.26 L506.65,196.70 L507.47,196.14 L508.29,195.58 L509.11,195.02 L509.93,194.46 L510.74,193.91 L511.56,193.35 L512.38,192.80 L513.20,192.25"/></g>
<g stroke="#00f" stroke-width="1.5" fill="none" stroke-linejoin="round" stroke-dasharray="3 4.5"><path d="M104.80,306.50 L108.93,306.49 L113.05,306.49 L117.18,306.48 L121.30,306.48 L125.43,306.47 L129.55,306.46 L133.68,306.46 L137.80,306.45 L141.93,306.45 L146.05,306.44 L150.18,306.43 L154.30,306.43 L158.43,306.42 L162.55,306.42 L166.68,306.41 L170.80,306.40 L174.93,306.40 L177.80,306.39 L178.15,306.39"/><path d="M177.80,306.39 L179.05,306.39 L183.18,306.38 L187.31,306.38 L191.43,306.37 L195.56,306.37 L199.68,306.36 L203.81,306.35 L207.93,306.35 L212.06,306.34 L216.18,306.34 L220.31,306.33 L224.43,306.32 L228.56,306.32 L232.68,306.31 L236.81,306.31 L240.93,306.30 L245.06,306.29 L249.18,306.29 L252.20,306.28 L252.55,306.28"/><path d="M252.20,306.28 L253.31,306.28 L257.43,306.28 L261.56,306.27 L265.68,306.26 L269.81,306.26 L273.94,306.25 L278.06,306.25 L282.19,306.24 L286.31,306.23 L290.44,306.23 L294.56,306.22 L298.69,306.22 L302.81,306.21 L306.94,306.20 L311.06,306.20 L315.19,306.19 L319.31,306.18 L323.44,306.18 L326.80,306.17 L327.15,306.17"/><path d="M326.80,306.17 L327.56,306.17 L331.69,306.17 L335.81,306.16 L339.94,306.15 L344.06,306.15 L348.19,306.14 L352.32,306.14 L356.44,306.13 L360.57,306.12 L364.69,306.12 L368.82,306.11 L372.94,306.11 L377.07,306.10 L381.19,306.09 L385.32,306.09 L389.44,306.08 L393.57,306.08 L397.69,306.07 L401.30,306.06 L401.65,306.06"/><path d="M401.30,306.06 L401.82,306.06 L405.94,306.06 L410.07,306.05 L414.19,306.05 L418.32,306.04 L422.44,306.03 L426.57,306.03 L430.69,306.02 L434.82,306.02 L438.95,306.01 L443.07,306.00 L447.20,306.00 L451.32,305.99 L455.45,305.98 L459.57,305.98 L463.70,305.97 L467.82,305.97 L471.95,305.96 L475.80,305.95 L476.15,305.95"/><path d="M475.80,305.95 L476.07,305.95 L480.20,305.95 L484.32,305.94 L488.45,305.94 L492.57,305.93 L496.70,305.92 L500.82,305.92 L504.95,305.91 L509.07,305.91 L513.20,305.90"/></g>
</g>
<path d="M188.0,36.25 H234.6" stroke="#000" stroke-width="1.5" fill="none"/>
<path d="M188.0,57.15 H234.6" stroke="#f00" stroke-width="1.5" fill="none" stroke-dasharray="12 6"/>
<path d="M188.0,77.95 H234.6" stroke="#0f0" stroke-width="1.5" fill="none" stroke-dasharray="6 9"/>
<path d="M188.0,98.75 H234.6" stroke="#00f" stroke-width="1.5" fill="none" stroke-dasharray="3 4.5"/>
<path d="M104.4,312.0 V20.85 H513.3 V312.0" fill="none" stroke="#000" stroke-width="1.85" stroke-linejoin="miter" stroke-linecap="butt"/>
<path d="M103.475,312.0 H514.225" fill="none" stroke="#000" stroke-width="2.0"/>
<text x="94.2" y="313.10" font-size="18.5" text-anchor="end" textLength="24.7" lengthAdjust="spacingAndGlyphs">0.0</text>
<text x="94.2" y="257.08" font-size="18.5" text-anchor="end" textLength="24.7" lengthAdjust="spacingAndGlyphs">0.1</text>
<text x="94.2" y="201.06" font-size="18.5" text-anchor="end" textLength="24.7" lengthAdjust="spacingAndGlyphs">0.2</text>
<text x="94.2" y="145.04" font-size="18.5" text-anchor="end" textLength="24.7" lengthAdjust="spacingAndGlyphs">0.3</text>
<text x="94.2" y="89.02" font-size="18.5" text-anchor="end" textLength="24.7" lengthAdjust="spacingAndGlyphs">0.4</text>
<text x="94.2" y="33.00" font-size="18.5" text-anchor="end" textLength="24.7" lengthAdjust="spacingAndGlyphs">0.5</text>
<text x="104.75" y="335.25" font-size="18.5" text-anchor="middle" textLength="24.3" lengthAdjust="spacingAndGlyphs">0.0</text>
<text x="155.85" y="335.25" font-size="18.5" text-anchor="middle" textLength="24.3" lengthAdjust="spacingAndGlyphs">0.1</text>
<text x="206.95" y="335.25" font-size="18.5" text-anchor="middle" textLength="24.3" lengthAdjust="spacingAndGlyphs">0.2</text>
<text x="258.05" y="335.25" font-size="18.5" text-anchor="middle" textLength="24.3" lengthAdjust="spacingAndGlyphs">0.3</text>
<text x="309.15" y="335.25" font-size="18.5" text-anchor="middle" textLength="24.3" lengthAdjust="spacingAndGlyphs">0.4</text>
<text x="360.25" y="335.25" font-size="18.5" text-anchor="middle" textLength="24.3" lengthAdjust="spacingAndGlyphs">0.5</text>
<text x="411.35" y="335.25" font-size="18.5" text-anchor="middle" textLength="24.3" lengthAdjust="spacingAndGlyphs">0.6</text>
<text x="462.45" y="335.25" font-size="18.5" text-anchor="middle" textLength="24.3" lengthAdjust="spacingAndGlyphs">0.7</text>
<text x="513.55" y="335.25" font-size="18.5" text-anchor="middle" textLength="24.3" lengthAdjust="spacingAndGlyphs">0.8</text>
<text transform="translate(300.5,363) scale(1.07,1)" font-size="17.3" style="stroke-width:0.2px">ρ</text>
<path d="M313.5,345.30 V349.90 M311.50,346.45 L315.50,348.75 M311.50,348.75 L315.50,346.45" stroke="#000" stroke-width="0.7" stroke-linecap="round" fill="none"/>
<g transform="translate(47.7,175.25) rotate(-90)"><text transform="scale(1.125,1)" font-size="17.8">x</text><text x="9.6" y="5.3" font-size="14.4">2</text></g>
</svg>
</body></html>
